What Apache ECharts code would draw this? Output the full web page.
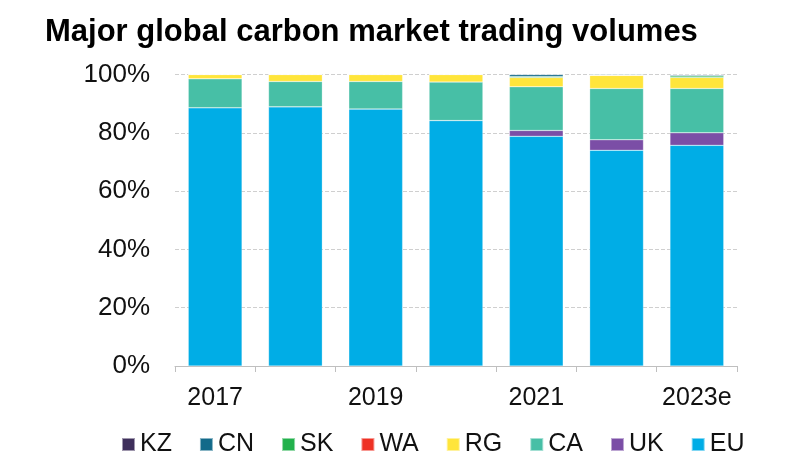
<!DOCTYPE html>
<html>
<head>
<meta charset="utf-8">
<script src="https://cdn.jsdelivr.net/npm/echarts@6/dist/echarts.min.js"></script>
<style>html,body{margin:0;padding:0;background:#fff}#c{width:812px;height:467px}</style>
</head>
<body>
<div id="c"></div>
<script>
const categories = ['2017','2018','2019','2020','2021','2022','2023e'];
const EU = [88.6, 88.9, 88.2, 84.2, 78.8, 74.0, 75.7];
const UK = [0, 0, 0, 0, 2.0, 3.6, 4.3];
const CA = [9.9, 8.7, 9.4, 13.2, 15.0, 17.6, 15.2];
const RG = [1.5, 2.4, 2.4, 2.6, 3.2, 4.5, 3.8];
const WA = [0, 0, 0, 0, 0, 0, 0];
const SK = [0, 0, 0, 0, 0.3, 0, 0.5];
const CN = [0, 0, 0, 0, 0.7, 0.3, 0.3];
const KZ = [0, 0, 0, 0, 0, 0, 0.2];
const legendOrder = ['KZ','CN','SK','WA','RG','CA','UK','EU'];

const seriesDefs = [
  ['EU', EU, '#00ade6'],
  ['UK', UK, '#7b4ea6'],
  ['CA', CA, '#47bfa6'],
  ['RG', RG, '#ffe53b'],
  ['WA', WA, '#ee3124'],
  ['SK', SK, '#22b14c'],
  ['CN', CN, '#136a8a'],
  ['KZ', KZ, '#3e2f5b']
];
const font = "'Liberation Sans', Arial, sans-serif";
const chart = echarts.init(document.getElementById('c'));
chart.setOption({
  animation: false,
  title: {
    text: 'Major global carbon market trading volumes',
    left: 45, top: 17, padding: 0,
    textStyle: {fontFamily: font, fontSize: 31, fontWeight: 'bold', color: '#000'}
  },
  legend: {
    data: legendOrder,
    left: 116, top: 427,
    itemWidth: 13, itemHeight: 13, itemGap: 27,
    icon: 'rect',
    textStyle: {fontFamily: font, fontSize: 25, color: '#111'}
  },
  grid: {left: 175, right: 75, top: 74.5, bottom: 101},
  xAxis: {
    type: 'category',
    data: categories,
    axisLine: {lineStyle: {color: '#bfbfbf'}},
    axisTick: {show: true, interval: 0, length: 6, lineStyle: {color: '#bfbfbf'}},
    axisLabel: {interval: 1, fontFamily: font, fontSize: 25, color: '#111', margin: 20}
  },
  yAxis: {
    type: 'value', min: 0, max: 100, interval: 20,
    axisLine: {show: false}, axisTick: {show: false},
    splitLine: {lineStyle: {color: '#cfcfcf', type: 'dashed'}},
    axisLabel: {formatter: '{value}%', fontFamily: font, fontSize: 26, color: '#111', margin: 25}
  },
  series: seriesDefs.map(([name, data, color]) => ({
    name, type: 'bar', stack: 'total', data,
    barWidth: '67%',
    itemStyle: {color, borderColor: 'rgba(255,255,255,0.5)', borderWidth: 0.5}
  }))
});
</script>
</body>
</html>
